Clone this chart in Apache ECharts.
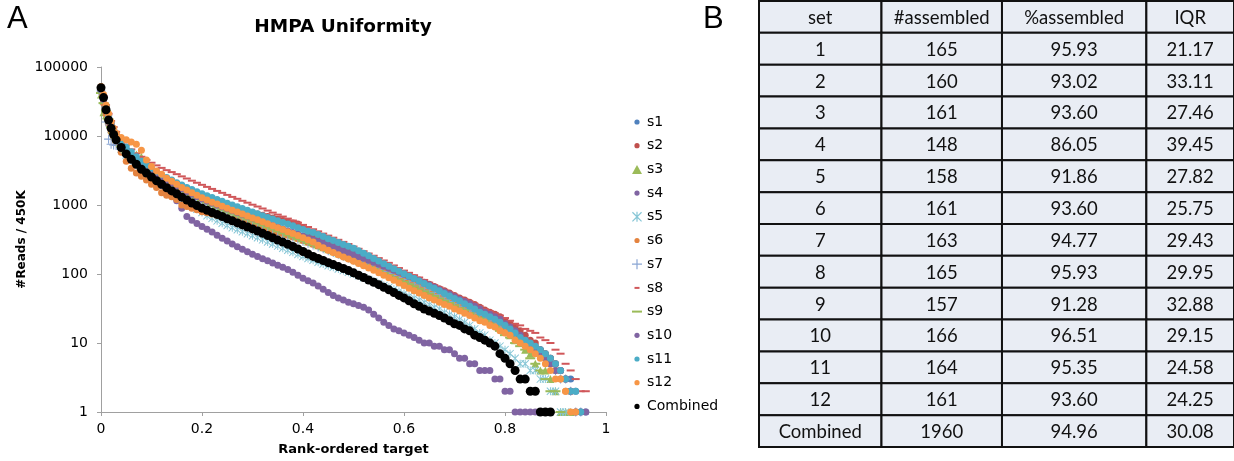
<!DOCTYPE html>
<html>
<head>
<meta charset="utf-8">
<title>HMPA Uniformity</title>
<script src="https://cdn.jsdelivr.net/npm/echarts@6/dist/echarts.min.js"></script>
<style>
  html, body { margin: 0; padding: 0; background: #fff; }
  #main { width: 1234px; height: 461px; }
</style>
</head>
<body>
<div id="main"></div>
<script>
// rank-ordered target positions shared by every set
var XS = [
  0, 0.005, 0.01, 0.015, 0.02, 0.025, 0.03, 0.04, 0.05, 0.06,
  0.07, 0.08, 0.09, 0.1, 0.11, 0.12, 0.13, 0.14, 0.15, 0.16,
  0.17, 0.18, 0.19, 0.2, 0.21, 0.22, 0.23, 0.24, 0.25, 0.26,
  0.27, 0.28, 0.29, 0.3, 0.31, 0.32, 0.33, 0.34, 0.35, 0.36,
  0.37, 0.38, 0.39, 0.4, 0.41, 0.42, 0.43, 0.44, 0.45, 0.46,
  0.47, 0.48, 0.49, 0.5, 0.51, 0.52, 0.53, 0.54, 0.55, 0.56,
  0.57, 0.58, 0.59, 0.6, 0.61, 0.62, 0.63, 0.64, 0.65, 0.66,
  0.67, 0.68, 0.69, 0.7, 0.71, 0.72, 0.73, 0.74, 0.75, 0.76,
  0.77, 0.78, 0.79, 0.8, 0.81, 0.82, 0.83, 0.84, 0.85, 0.86,
  0.87, 0.88, 0.89, 0.9, 0.91, 0.92, 0.93, 0.94, 0.95, 0.96
];

// #reads / 450K per set
var S1 = [
  44000, 33000, 24000, 18000, 14000, 11500, 9600, 7500, 6200, 5200,
  4500, 3950, 3500, 3100, 2800, 2500, 2250, 2050, 1870, 1700,
  1550, 1420, 1310, 1210, 1120, 1040, 970, 905, 845, 790,
  740, 695, 650, 610, 575, 540, 508, 478, 450, 424,
  400, 377, 355, 335, 316, 298, 281, 265, 250, 236,
  222, 209, 197, 185, 174, 163, 153, 143, 134, 126,
  118, 110, 103, 96, 89, 83, 77, 72, 67, 62,
  57, 53, 49, 45, 42, 39, 36, 33, 30, 27,
  25, 23, 21, 19, 17, 15, 13, 11, 10, 9,
  8, 7, 6, 5, 4, 3, 3, 2, 1, 1
];
var S2 = [
  48000, 35000, 26000, 20000, 15500, 12500, 10300, 7800, 6300, 5300,
  4600, 4000, 3550, 3200, 2900, 2650, 2420, 2220, 2040, 1880,
  1740, 1610, 1490, 1380, 1280, 1190, 1110, 1040, 980, 930,
  885, 845, 810, 775, 740, 710, 680, 650, 620, 595,
  570, 550, 530, 460, 400, 360, 335, 312, 291, 272,
  254, 237, 221, 206, 192, 179, 167, 156, 145, 135,
  126, 117, 109, 102, 95, 88, 82, 76, 71, 66,
  61, 57, 53, 49, 45, 42, 39, 36, 33, 30,
  28, 26, 24, 21, 19, 17, 15, 13, 11, 10,
  8, 7, 6, 5, 4, 3, 2, null, null, null
];
var S3 = [
  40000, 22000, 20000, 17000, 14000, 11000, 9200, 7200, 6200, 5600,
  5400, 5000, 4000, 3300, 2900, 2600, 2350, 2150, 1950, 1780,
  1630, 1500, 1380, 1270, 1170, 1080, 1000, 930, 865, 805,
  750, 700, 655, 612, 572, 535, 500, 468, 438, 410,
  384, 360, 337, 316, 296, 278, 260, 244, 228, 214,
  200, 188, 176, 165, 154, 144, 135, 126, 118, 110,
  103, 96, 89, 83, 77, 72, 67, 62, 57, 53,
  49, 45, 42, 39, 36, 33, 30, 28, 25, 23,
  21, 19, 17, 15, 13, 11, 10, 8, 7, 5,
  4, 4, 3, 2, 1, 1, 1, null, null, null
];
var S4 = [
  44000, 32000, 23000, 17000, 13000, 10500, 8800, 6700, 5400, 4500,
  3800, 3250, 2800, 2450, 2150, 1900, 1650, 1420, 1150, 900,
  680, 600, 540, 490, 445, 405, 365, 330, 300, 272,
  248, 228, 210, 194, 180, 167, 155, 144, 134, 125,
  116, 106, 96, 87, 80, 74, 67, 60, 54, 49,
  45, 42, 39, 37, 35, 33, 30, 26, 23, 20,
  18, 16, 15, 14, 13, 12, 11, 10, 10, 9,
  9, 8, 8, 7, 6, 6, 5, 5, 4, 4,
  4, 3, 3, 2, 2, 1, 1, 1, 1, 1,
  null, null, null, null, null, null, null, null, null, null
];
var S5 = [
  46000, 32000, 23000, 16500, 12500, 10000, 8500, 6500, 5300, 4450,
  3800, 3250, 2850, 2500, 2200, 1950, 1730, 1540, 1370, 1220,
  1090, 970, 870, 780, 700, 640, 590, 545, 505, 470,
  438, 410, 383, 358, 335, 313, 292, 272, 254, 237,
  221, 206, 192, 180, 168, 158, 148, 140, 132, 125,
  118, 112, 106, 100, 94, 88, 83, 78, 73, 68,
  64, 60, 56, 52, 48, 45, 42, 39, 36, 33,
  31, 28, 26, 24, 22, 20, 18, 16, 14, 13,
  11, 10, 9, 8, 7, 6, 5, 5, 4, 4,
  3, 3, 2, 2, 1, 1, null, null, null, null
];
var S6 = [
  45000, 30000, 21000, 15000, 11500, 9500, 8000, 5800, 4300, 3400,
  2900, 2600, 2300, 2000, 1800, 1500, 1380, 1320, 1200, 1000,
  950, 900, 850, 800, 770, 740, 710, 680, 650, 620,
  600, 575, 550, 525, 500, 475, 450, 428, 405, 385,
  365, 345, 325, 305, 288, 270, 254, 238, 223, 209,
  196, 184, 172, 161, 150, 140, 131, 122, 114, 106,
  99, 92, 86, 80, 74, 69, 64, 59, 55, 51,
  47, 44, 41, 38, 35, 33, 31, 28, 26, 24,
  22, 20, 18, 16, 15, 13, 12, 10, 9, 8,
  7, 6, 5, 4, 3, 2, 2, 1, null, null
];
var S7 = [
  45000, 30000, 16000, 9000, 7600, 7400, 7300, 6500, 5600, 4800,
  4200, 3700, 3300, 2950, 2650, 2380, 2150, 1950, 1780, 1620,
  1480, 1360, 1250, 1150, 1065, 990, 920, 860, 800, 748,
  700, 655, 613, 574, 537, 503, 471, 441, 413, 387,
  362, 339, 318, 298, 280, 263, 247, 232, 218, 205,
  193, 181, 170, 160, 150, 141, 132, 124, 116, 109,
  102, 95, 89, 83, 77, 72, 67, 62, 58, 54,
  50, 46, 43, 40, 37, 34, 31, 29, 27, 25,
  23, 21, 19, 17, 15, 13, 12, 10, 9, 8,
  7, 6, 5, 4, 3, 3, 2, 1, 1, null
];
var S8 = [
  50000, 38000, 28000, 21000, 16500, 13500, 11500, 9000, 7500, 6400,
  5600, 5000, 4500, 4100, 3750, 3450, 3200, 3000, 2800, 2600,
  2420, 2250, 2100, 1960, 1830, 1710, 1600, 1500, 1400, 1310,
  1230, 1150, 1080, 1010, 950, 890, 830, 775, 725, 680,
  635, 595, 555, 515, 480, 445, 415, 385, 360, 336,
  313, 292, 272, 250, 232, 214, 198, 184, 170, 157,
  145, 133, 122, 112, 104, 96, 89, 82, 75, 69,
  64, 59, 54, 50, 46, 43, 40, 37, 34, 31,
  29, 27, 25, 23, 21, 19, 18, 16, 15, 14,
  12, 11, 10, 8, 7, 5, 4, 3, 2, 2
];
var S9 = [
  42000, 30000, 23000, 17500, 13500, 11000, 9300, 7100, 5800, 4900,
  4300, 3800, 3350, 3000, 2700, 2420, 2180, 1980, 1800, 1640,
  1500, 1380, 1270, 1170, 1085, 1005, 935, 870, 810, 755,
  705, 660, 618, 578, 540, 505, 473, 443, 415, 389,
  364, 341, 320, 300, 281, 263, 246, 231, 216, 202,
  189, 177, 166, 155, 145, 136, 127, 119, 111, 103,
  96, 89, 83, 77, 71, 66, 61, 56, 52, 48,
  44, 41, 38, 35, 32, 30, 27, 25, 23, 21,
  19, 17, 15, 13, 12, 10, 9, 8, 6, 5,
  4, 3, 2, 2, 1, null, null, null, null, null
];
var S10 = [
  47000, 34000, 26000, 19000, 14500, 11500, 9800, 7400, 6000, 5100,
  4400, 3900, 3500, 3150, 2850, 2550, 2300, 2100, 1900, 1720,
  1570, 1440, 1330, 1230, 1140, 1070, 1000, 940, 880, 830,
  780, 735, 690, 650, 612, 575, 540, 508, 478, 450,
  424, 400, 377, 355, 334, 314, 296, 278, 262, 246,
  231, 217, 204, 192, 180, 169, 158, 148, 139, 130,
  121, 113, 106, 99, 92, 86, 80, 74, 69, 64,
  59, 55, 51, 47, 43, 40, 37, 34, 31, 28,
  26, 24, 22, 19, 17, 15, 13, 11, 9, 8,
  7, 6, 5, 4, 4, 3, 2, 1, 1, 1
];
var S11 = [
  48000, 38000, 27000, 20000, 15500, 12500, 10500, 8300, 6900, 5900,
  5000, 4300, 3800, 3400, 3050, 2750, 2500, 2300, 2100, 1950,
  1800, 1680, 1560, 1450, 1360, 1280, 1200, 1130, 1060, 1000,
  940, 890, 840, 790, 745, 700, 660, 625, 590, 560,
  530, 500, 470, 440, 415, 400, 375, 350, 325, 305,
  285, 268, 252, 236, 218, 200, 184, 168, 154, 141,
  130, 119, 110, 101, 93, 86, 79, 73, 67, 62,
  57, 52, 48, 44, 41, 37, 34, 31, 28, 26,
  24, 22, 20, 18, 16, 14, 12, 11, 10, 9,
  8, 7, 6, 5, 4, 3, 2, 2, 1, null
];
var S12 = [
  52000, 40000, 28000, 21000, 16000, 13000, 11000, 9500, 8800, 8200,
  7600, 6200, 4500, 3600, 3100, 2800, 2450, 2200, 2000, 1800,
  1650, 1500, 1380, 1270, 1180, 1100, 1030, 960, 900, 840,
  790, 740, 690, 650, 610, 570, 535, 500, 470, 440,
  410, 385, 360, 335, 312, 292, 260, 240, 220, 205,
  190, 177, 165, 153, 142, 132, 122, 113, 104, 96,
  88, 81, 74, 68, 62, 57, 53, 49, 45, 42,
  39, 36, 34, 31, 29, 27, 25, 23, 21, 20,
  18, 17, 15, 14, 13, 11, 10, 9, 8, 7,
  6, 5, 4, 3, 3, 2, 1, 1, null, null
];
var COMBINED = [
  50000, 36000, 24000, 17000, 13000, 10500, 8800, 6800, 5500, 4600,
  3900, 3300, 2900, 2550, 2250, 2000, 1780, 1600, 1450, 1300,
  1180, 1070, 980, 900, 840, 780, 730, 680, 630, 590,
  550, 515, 480, 450, 420, 390, 362, 335, 310, 290,
  270, 250, 230, 212, 195, 180, 168, 157, 146, 137,
  128, 120, 112, 104, 96, 89, 82, 76, 70, 64,
  59, 54, 49, 45, 41, 37, 34, 31, 29, 27,
  25, 23, 21, 19, 18, 16, 15, 13, 12, 11,
  10, 9, 7, 6, 5, 4, 3, 3, 2, 2,
  1, 1, 1, null, null, null, null, null, null, null
];

// table B
var TABLE_HEAD = ["set", "#assembled", "%assembled", "IQR"];
var TABLE_SET = ["1", "2", "3", "4", "5", "6", "7", "8", "9", "10", "11", "12", "Combined"];
var TABLE_ASSEMBLED = ["165", "160", "161", "148", "158", "161", "163", "165", "157", "166", "164", "161", "1960"];
var TABLE_PCT = ["95.93", "93.02", "93.60", "86.05", "91.86", "93.60", "94.77", "95.93", "91.28", "96.51", "95.35", "93.60", "94.96"];
var TABLE_IQR = ["21.17", "33.11", "27.46", "39.45", "27.82", "25.75", "29.43", "29.95", "32.88", "29.15", "24.58", "24.25", "30.08"];

var myChart = echarts.init(document.getElementById("main"));

// marker shapes (legend icons padded to a 10x10 box)
var DOT = "path://M0,0M10,10M7.6,5A2.6,2.6,0,1,1,2.4,5A2.6,2.6,0,1,1,7.6,5Z";
var TRI = "path://M5,0L10,9L0,9Z";
var STAR = "path://M4.4,0h1.2v10h-1.2zM0,0.85L0.85,0L10,9.15L9.15,10zM9.15,0L10,0.85L0.85,10L0,9.15z";
var PLUS = "path://M4.4,0h1.2v4.4h4.4v1.2h-4.4v4.4h-1.2v-4.4h-4.4v-1.2h4.4z";
var SHORT_DASH = "path://M0,0M10,10M2.5,4h5v2h-5z";
var LONG_DASH = "path://M0,0M10,10M0,4h10v2h-10z";

var sets = [
  { name: "s1", data: S1, color: "#4f81bd", symbol: "circle", size: 7, icon: DOT },
  { name: "s2", data: S2, color: "#c0504d", symbol: "circle", size: 7, icon: DOT },
  { name: "s3", data: S3, color: "#9bbb59", symbol: "triangle", size: 8, icon: TRI },
  { name: "s4", data: S4, color: "#8064a2", symbol: "circle", size: 7, icon: DOT },
  { name: "s5", data: S5, color: "#86c6d6", symbol: STAR, size: 8, icon: STAR },
  { name: "s6", data: S6, color: "#e4833f", symbol: "circle", size: 7, icon: DOT },
  { name: "s7", data: S7, color: "#8aa6d4", symbol: PLUS, size: 9, icon: PLUS },
  { name: "s8", data: S8, color: "#d0575a", symbol: "rect", size: [8, 2], icon: SHORT_DASH },
  { name: "s9", data: S9, color: "#9bbb59", symbol: "rect", size: [10, 2], icon: LONG_DASH },
  { name: "s10", data: S10, color: "#8064a2", symbol: "circle", size: 7, icon: DOT },
  { name: "s11", data: S11, color: "#4bacc6", symbol: "circle", size: 7, icon: DOT },
  { name: "s12", data: S12, color: "#f79646", symbol: "circle", size: 7, icon: DOT },
  { name: "Combined", data: COMBINED, color: "#000000", symbol: "circle", size: 9, icon: DOT }
];

function toPoints(ys) {
  var pts = [];
  for (var i = 0; i < XS.length; i++) {
    if (ys[i] != null) pts.push([XS[i], ys[i]]);
  }
  return pts;
}

var series = sets.map(function (s) {
  return {
    name: s.name,
    type: "scatter",
    xAxisIndex: 0,
    yAxisIndex: 0,
    symbol: s.symbol,
    symbolSize: s.size,
    clip: false,
    itemStyle: { color: s.color, opacity: 1 },
    emphasis: { disabled: true },
    data: toPoints(s.data)
  };
});

// table cells: column edges in px along the table grid
var COL_EDGES = [0, 123, 244, 389, 477];
var cells = [];
TABLE_HEAD.forEach(function (t, c) { cells.push([c, 0, t]); });
TABLE_SET.forEach(function (t, r) {
  cells.push([0, r + 1, t]);
  cells.push([1, r + 1, TABLE_ASSEMBLED[r]]);
  cells.push([2, r + 1, TABLE_PCT[r]]);
  cells.push([3, r + 1, TABLE_IQR[r]]);
});
var rowNames = ["head"].concat(TABLE_SET);

series.push({
  type: "custom",
  xAxisIndex: 1,
  yAxisIndex: 1,
  silent: true,
  clip: false,
  encode: { x: 0, y: 1 },
  data: cells.map(function (c) { return [c[0], c[1]]; }),
  renderItem: function (params, api) {
    var col = api.value(0);
    var row = api.value(1);
    var a = api.coord([COL_EDGES[col], row]);
    var b = api.coord([COL_EDGES[col + 1], row]);
    var h = api.size([0, 1])[1];
    return {
      type: "group",
      children: [
        {
          type: "rect",
          shape: { x: a[0], y: a[1] - h / 2, width: b[0] - a[0], height: h },
          style: { fill: "#e9edf4", stroke: "#111", lineWidth: 2 }
        },
        {
          type: "text",
          style: {
            text: cells[params.dataIndex][2],
            x: (a[0] + b[0]) / 2,
            y: a[1] + 1,
            align: "center",
            verticalAlign: "middle",
            fontSize: 18.5,
            fontFamily: "Lato",
            fill: "#111"
          }
        }
      ]
    };
  }
});

var option = {
  backgroundColor: "#ffffff",
  animation: false,
  title: [
    {
      text: "HMPA Uniformity",
      left: 343,
      top: 18,
      textAlign: "center",
      padding: 0,
      textStyle: { fontSize: 18.5, fontWeight: "bold", fontFamily: "DejaVu Sans", color: "#000" }
    },
    {
      text: "A",
      left: 7,
      top: 4,
      padding: 0,
      textStyle: { fontSize: 31, fontWeight: "normal", fontFamily: "Liberation Sans", color: "#000" }
    },
    {
      text: "B",
      left: 703,
      top: 4,
      padding: 0,
      textStyle: { fontSize: 31, fontWeight: "normal", fontFamily: "Liberation Sans", color: "#000" }
    }
  ],
  legend: {
    orient: "vertical",
    left: 627,
    top: 110,
    itemWidth: 10,
    itemHeight: 10,
    itemGap: 9.7,
    selectedMode: false,
    textStyle: { fontSize: 14, lineHeight: 14, fontFamily: "DejaVu Sans", color: "#000" },
    data: sets.map(function (s) { return { name: s.name, icon: s.icon }; })
  },
  grid: [
    { left: 101, top: 67, width: 505, height: 346 },
    { left: 759, top: 1, width: 477, height: 446 }
  ],
  xAxis: [
    {
      type: "value",
      gridIndex: 0,
      min: 0,
      max: 1,
      interval: 0.2,
      name: "Rank-ordered target",
      nameLocation: "middle",
      nameGap: 31,
      nameTextStyle: { fontSize: 13, fontWeight: "bold", fontFamily: "DejaVu Sans", color: "#000" },
      axisLine: { lineStyle: { color: "#a0a0a0", width: 1 } },
      axisTick: { show: true, length: 4, lineStyle: { color: "#a0a0a0" } },
      splitLine: { show: false },
      axisLabel: { fontSize: 14, fontFamily: "DejaVu Sans", color: "#000", margin: 10 }
    },
    {
      type: "value",
      gridIndex: 1,
      min: 0,
      max: 477,
      show: false
    }
  ],
  yAxis: [
    {
      type: "log",
      gridIndex: 0,
      logBase: 10,
      min: 1,
      max: 100000,
      splitNumber: 5,
      name: "#Reads / 450K",
      nameLocation: "middle",
      nameGap: 73,
      nameTextStyle: { fontSize: 12, fontWeight: "bold", fontFamily: "DejaVu Sans", color: "#000" },
      axisLine: { show: true, lineStyle: { color: "#a0a0a0", width: 1 } },
      axisTick: { show: true, length: 4, lineStyle: { color: "#a0a0a0" } },
      splitLine: { show: false },
      axisLabel: {
        fontSize: 14,
        fontFamily: "DejaVu Sans",
        color: "#000",
        margin: 13,
        formatter: function (v) { return String(Math.round(v)); }
      }
    },
    {
      type: "category",
      gridIndex: 1,
      inverse: true,
      data: rowNames,
      show: false
    }
  ],
  series: series
};

myChart.setOption(option);
window.addEventListener("resize", function () {
  myChart.resize();
});
</script>
</body>
</html>
